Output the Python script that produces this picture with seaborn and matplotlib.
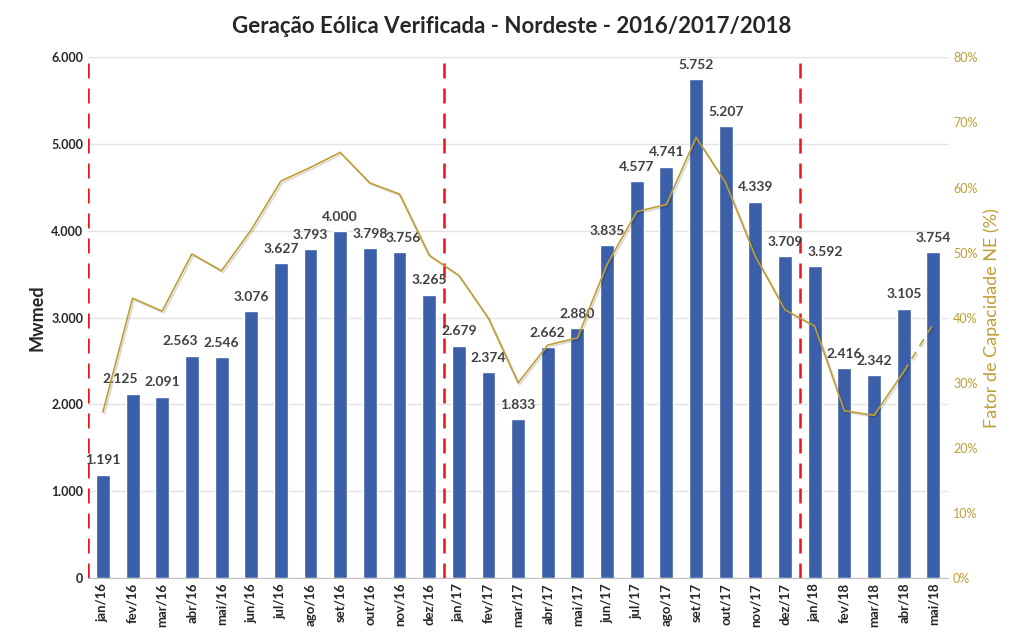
import numpy as np
import seaborn as sns
import matplotlib.pyplot as plt
import matplotlib.patheffects as pe
from matplotlib.ticker import FuncFormatter, MultipleLocator

meses = ["jan/16", "fev/16", "mar/16", "abr/16", "mai/16", "jun/16", "jul/16", "ago/16",
         "set/16", "out/16", "nov/16", "dez/16",
         "jan/17", "fev/17", "mar/17", "abr/17", "mai/17", "jun/17", "jul/17", "ago/17",
         "set/17", "out/17", "nov/17", "dez/17",
         "jan/18", "fev/18", "mar/18", "abr/18", "mai/18"]
geracao = [1191, 2125, 2091, 2563, 2546, 3076, 3627, 3793, 4000, 3798, 3756, 3265,
           2679, 2374, 1833, 2662, 2880, 3835, 4577, 4741, 5752, 5207, 4339, 3709,
           3592, 2416, 2342, 3105, 3754]
# fator de capacidade (%)
fator_cap = [25.5, 43.0, 41.0, 49.8, 47.2, 53.5, 61.0, 63.1, 65.4, 60.7, 59.0, 49.6,
             46.5, 39.9, 30.0, 35.8, 36.9, 48.2, 56.3, 57.4, 67.7, 60.7, 49.4, 41.2,
             38.7, 25.7, 25.0, 31.7, 39.1]
divisoes = [-0.5, 11.5, 23.5]  # start of each year

# labels that were dragged sideways in the original so they don't collide
desloc_rotulo = {"fev/16": -0.43, "abr/16": -0.4, "nov/16": 0.12, "jan/18": 0.34}

azul = "#3B5FA9"
ouro = "#BF9E35"

sns.set_style("white")
plt.rcParams['font.family'] = ['Lato', 'DejaVu Sans']

fig, ax = plt.subplots(figsize=(10.24, 6.38), dpi=100)
fig.subplots_adjust(left=0.086, right=0.926, top=0.91, bottom=0.094)

sns.barplot(x=meses, y=geracao, color=azul, width=0.47, saturation=1, ax=ax)

fmt = lambda v: f"{v:,.0f}".replace(",", ".")
for i, (m, v) in enumerate(zip(meses, geracao)):
    ax.text(i + desloc_rotulo.get(m, 0), v + 95, fmt(v), ha="center", va="bottom",
            fontsize=10, fontweight="bold", color="#404040", zorder=6)

ax.set_ylim(0, 6000)
ax.set_xlim(-0.5, len(meses) - 0.5)
ax.yaxis.set_major_locator(MultipleLocator(1000))
ax.yaxis.set_major_formatter(FuncFormatter(lambda v, p: fmt(v)))
ax.grid(axis="y", color="#E3E3E3", linewidth=1)
ax.set_axisbelow(True)
ax.set_ylabel("Mwmed", fontsize=13, fontweight="bold")
ax.tick_params(axis="y", labelsize=9, length=0)
plt.setp(ax.get_yticklabels(), fontweight="bold")
ax.tick_params(axis="x", labelsize=9.5, rotation=90, length=0)
plt.setp(ax.get_xticklabels(), fontweight="bold")
for s in ["top", "right", "left"]:
    ax.spines[s].set_visible(False)
ax.spines["bottom"].set_color("#BFBFBF")

for d in divisoes:
    ax.axvline(d, color="#E8141B", linestyle=(0, (6, 4)), linewidth=1.8, zorder=5)

ax2 = ax.twinx()
x = np.arange(len(meses))
sombra = [pe.SimpleLineShadow(offset=(1.2, -1.2), alpha=0.15), pe.Normal()]
sns.lineplot(x=x[:-1], y=fator_cap[:-1], color=ouro, linewidth=1.2, ax=ax2,
             path_effects=sombra)
sns.lineplot(x=x[-2:], y=fator_cap[-2:], color=ouro, linewidth=1.2, ax=ax2,
             linestyle=(0, (5, 4)), path_effects=sombra)
ax2.set_ylim(0, 80)
ax2.yaxis.set_major_locator(MultipleLocator(10))
ax2.yaxis.set_major_formatter(FuncFormatter(lambda v, p: f"{v:.0f}%"))
ax2.tick_params(axis="y", labelsize=9, length=0, colors=ouro)
ax2.set_ylabel("Fator de Capacidade NE (%)", fontsize=13, color=ouro)
for s in ["top", "right", "left", "bottom"]:
    ax2.spines[s].set_visible(False)

fig.suptitle("Geração Eólica Verificada - Nordeste - 2016/2017/2018", fontsize=16,
             fontweight="bold", color="#262626", y=0.975)

fig.savefig("out.png", dpi=100)
